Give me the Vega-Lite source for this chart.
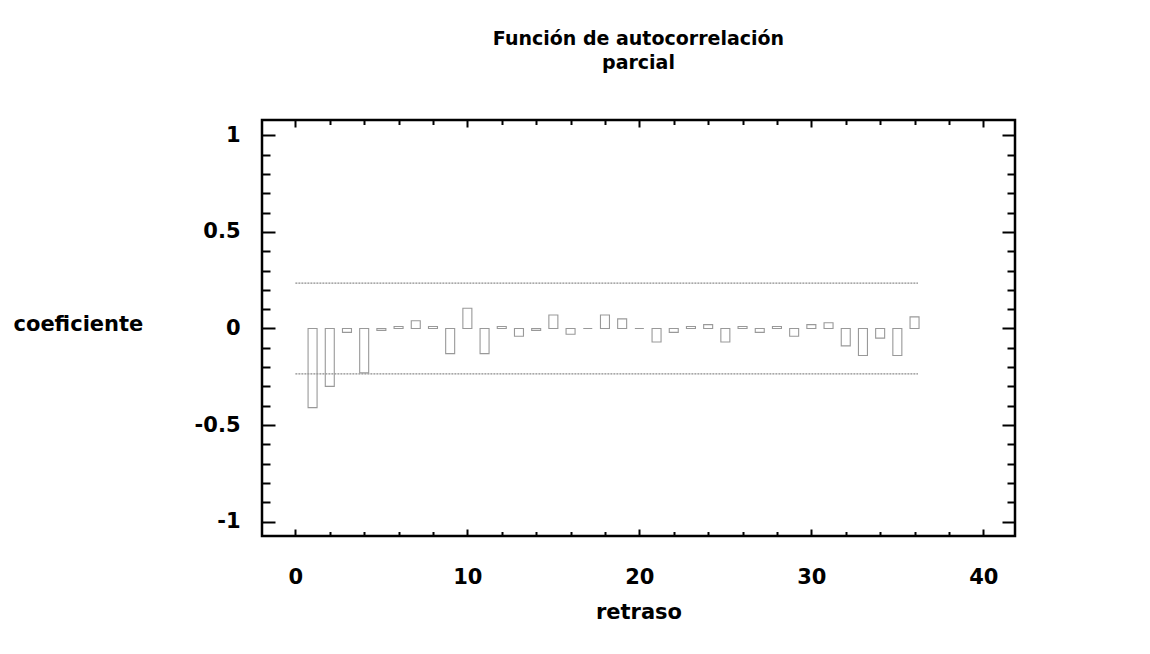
{
  "$schema": "https://vega.github.io/schema/vega-lite/v6.json",
  "width": 753,
  "height": 416,
  "autosize": {"type": "none"},
  "padding": {"left": 262, "top": 120, "right": 135, "bottom": 118},
  "background": "white",
  "config": {
    "view": {"stroke": "#000", "strokeWidth": 2.5},
    "axis": {
      "grid": false,
      "domain": false,
      "labelFont": "DejaVu Sans, Liberation Sans, Arial",
      "labelFontWeight": "bold",
      "labelFontSize": 21,
      "labelColor": "#000",
      "titleFont": "DejaVu Sans, Liberation Sans, Arial",
      "titleFontWeight": "bold",
      "titleFontSize": 21,
      "titleColor": "#000",
      "tickColor": "#000",
      "tickWidth": 2
    }
  },
  "title": {
    "text": ["Función de autocorrelación", "parcial"],
    "font": "DejaVu Sans, Liberation Sans, Arial",
    "fontWeight": "bold",
    "fontSize": 19,
    "lineHeight": 24,
    "color": "#000",
    "anchor": "middle",
    "offset": 46
  },
  "datasets": {
    "pacf": [
      {"lag": 1, "pacf": -0.41}, {"lag": 2, "pacf": -0.30}, {"lag": 3, "pacf": -0.02},
      {"lag": 4, "pacf": -0.23}, {"lag": 5, "pacf": -0.01}, {"lag": 6, "pacf": 0.01},
      {"lag": 7, "pacf": 0.04}, {"lag": 8, "pacf": 0.01}, {"lag": 9, "pacf": -0.13},
      {"lag": 10, "pacf": 0.105}, {"lag": 11, "pacf": -0.13}, {"lag": 12, "pacf": 0.01},
      {"lag": 13, "pacf": -0.04}, {"lag": 14, "pacf": -0.01}, {"lag": 15, "pacf": 0.07},
      {"lag": 16, "pacf": -0.03}, {"lag": 17, "pacf": 0.0}, {"lag": 18, "pacf": 0.07},
      {"lag": 19, "pacf": 0.05}, {"lag": 20, "pacf": 0.0}, {"lag": 21, "pacf": -0.07},
      {"lag": 22, "pacf": -0.02}, {"lag": 23, "pacf": 0.01}, {"lag": 24, "pacf": 0.02},
      {"lag": 25, "pacf": -0.07}, {"lag": 26, "pacf": 0.01}, {"lag": 27, "pacf": -0.02},
      {"lag": 28, "pacf": 0.01}, {"lag": 29, "pacf": -0.04}, {"lag": 30, "pacf": 0.02},
      {"lag": 31, "pacf": 0.03}, {"lag": 32, "pacf": -0.09}, {"lag": 33, "pacf": -0.14},
      {"lag": 34, "pacf": -0.05}, {"lag": 35, "pacf": -0.14}, {"lag": 36, "pacf": 0.06}
    ],
    "limits": [
      {"lag": 0, "lagEnd": 36.2, "pacf": 0.235},
      {"lag": 0, "lagEnd": 36.2, "pacf": -0.235}
    ]
  },
  "resolve": {"axis": {"x": "independent", "y": "independent"}},
  "layer": [
    {
      "data": {"name": "limits"},
      "mark": {"type": "rule", "stroke": "#8c8c8c", "strokeWidth": 1.2, "strokeDash": [2, 1]},
      "encoding": {
        "x": {"field": "lag", "type": "quantitative",
              "scale": {"domain": [-1.65, 41.55], "nice": false, "zero": false},
              "axis": {"orient": "bottom", "values": [0, 10, 20, 30, 40], "ticks": false, "labelPadding": 30,
                       "title": "retraso", "titleY": 76, "titleBaseline": "middle"}},
        "x2": {"field": "lagEnd"},
        "y": {"field": "pacf", "type": "quantitative",
              "scale": {"domain": [-1.075, 1.08], "nice": false, "zero": false},
              "axis": {"orient": "left", "values": [-1, -0.5, 0, 0.5, 1], "ticks": false, "labelPadding": 22,
                       "labelExpr": "toString(datum.value)",
                       "title": "coeficiente", "titleAngle": 0, "titleAlign": "left", "titleBaseline": "middle",
                       "titleX": -249, "titleY": 204}}
      }
    },
    {
      "data": {"name": "pacf"},
      "mark": {"type": "bar", "fill": "white", "fillOpacity": 0, "stroke": "#999999", "strokeWidth": 1.1, "width": 9},
      "encoding": {
        "x": {"field": "lag", "type": "quantitative",
              "scale": {"domain": [-1.65, 41.55], "nice": false, "zero": false},
              "axis": {"orient": "bottom", "values": [0, 10, 20, 30, 40], "labels": false, "tickSize": -7, "title": null}},
        "y": {"field": "pacf", "type": "quantitative",
              "scale": {"domain": [-1.075, 1.08], "nice": false, "zero": false},
              "axis": {"orient": "left", "values": [-1, -0.5, 0, 0.5, 1], "labels": false, "tickSize": -13, "title": null}},
        "y2": {"datum": 0}
      }
    },
    {
      "data": {"name": "pacf"},
      "mark": {"type": "point", "opacity": 0},
      "encoding": {
        "x": {"field": "lag", "type": "quantitative",
              "scale": {"domain": [-1.65, 41.55], "nice": false, "zero": false},
              "axis": {"orient": "bottom", "values": [2, 4, 6, 8, 12, 14, 16, 18, 22, 24, 26, 28, 32, 34, 36, 38], "labels": false, "tickSize": -4.5, "title": null}},
        "y": {"field": "pacf", "type": "quantitative",
              "scale": {"domain": [-1.075, 1.08], "nice": false, "zero": false},
              "axis": {"orient": "left", "values": [-0.9, -0.8, -0.7, -0.6, -0.4, -0.3, -0.2, -0.1, 0.1, 0.2, 0.3, 0.4, 0.6, 0.7, 0.8, 0.9], "labels": false, "tickSize": -8, "title": null}}
      }
    },
    {
      "data": {"name": "pacf"},
      "mark": {"type": "point", "opacity": 0},
      "encoding": {
        "x": {"field": "lag", "type": "quantitative",
              "scale": {"domain": [-1.65, 41.55], "nice": false, "zero": false},
              "axis": {"orient": "top", "values": [0, 10, 20, 30, 40], "labels": false, "tickSize": -7, "title": null}},
        "y": {"field": "pacf", "type": "quantitative",
              "scale": {"domain": [-1.075, 1.08], "nice": false, "zero": false},
              "axis": {"orient": "right", "values": [-1, -0.5, 0, 0.5, 1], "labels": false, "tickSize": -13, "title": null}}
      }
    },
    {
      "data": {"name": "pacf"},
      "mark": {"type": "point", "opacity": 0},
      "encoding": {
        "x": {"field": "lag", "type": "quantitative",
              "scale": {"domain": [-1.65, 41.55], "nice": false, "zero": false},
              "axis": {"orient": "top", "values": [2, 4, 6, 8, 12, 14, 16, 18, 22, 24, 26, 28, 32, 34, 36, 38], "labels": false, "tickSize": -4.5, "title": null}},
        "y": {"field": "pacf", "type": "quantitative",
              "scale": {"domain": [-1.075, 1.08], "nice": false, "zero": false},
              "axis": {"orient": "right", "values": [-0.9, -0.8, -0.7, -0.6, -0.4, -0.3, -0.2, -0.1, 0.1, 0.2, 0.3, 0.4, 0.6, 0.7, 0.8, 0.9], "labels": false, "tickSize": -8, "title": null}}
      }
    }
  ]
}
